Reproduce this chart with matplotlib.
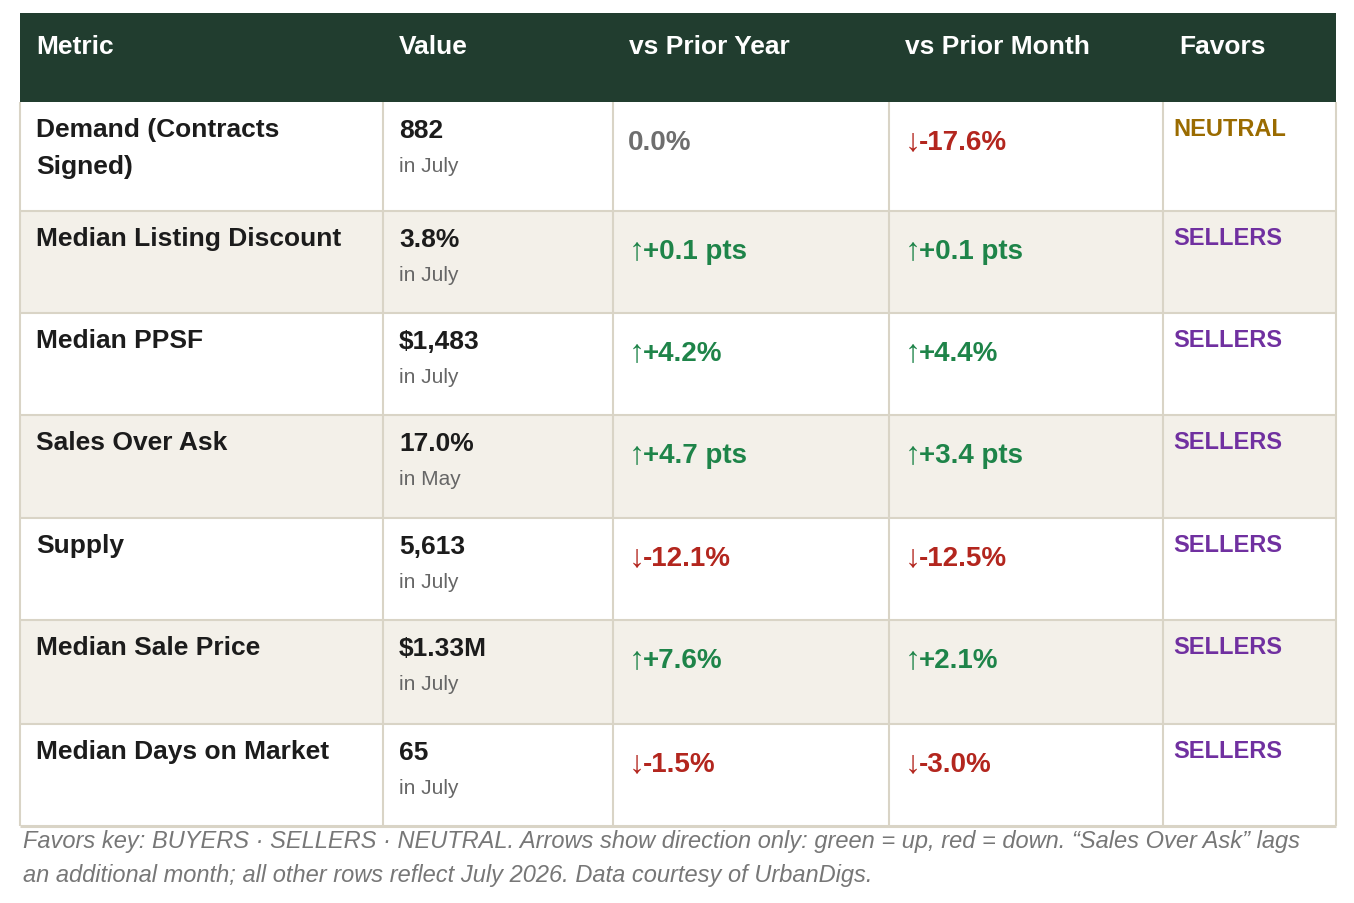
import matplotlib.pyplot as plt
from matplotlib.patches import Rectangle

# table content
columns = ["Metric", "Value", "vs Prior Year", "vs Prior Month", "Favors"]
metrics = ["Demand (Contracts\nSigned)", "Median Listing Discount", "Median PPSF",
           "Sales Over Ask", "Supply", "Median Sale Price", "Median Days on Market"]
values = ["882", "3.8%", "$1,483", "17.0%", "5,613", "$1.33M", "65"]
periods = ["in July", "in July", "in July", "in May", "in July", "in July", "in July"]
vs_year = [0.0, 0.1, 4.2, 4.7, -12.1, 7.6, -1.5]
vs_month = [-17.6, 0.1, 4.4, 3.4, -12.5, 2.1, -3.0]
units = ["%", " pts", "%", " pts", "%", "%", "%"]
favors = ["NEUTRAL", "SELLERS", "SELLERS", "SELLERS", "SELLERS", "SELLERS", "SELLERS"]
footnote = [
    "Favors key: BUYERS \u00b7 SELLERS \u00b7 NEUTRAL. Arrows show direction only: "
    "green = up, red = down. \u201cSales Over Ask\u201d lags",
    "an additional month; all other rows reflect July 2026. Data courtesy of UrbanDigs.",
]

# layout (pixels)
W, H = 1354, 904
COL_EDGES = [20, 383, 613, 889, 1163, 1336]
HEADER_TOP = 14
ROW_EDGES = [103, 212, 314, 416, 519, 621, 725, 827]
PAD = 16

HEADER_BG = "#213D2F"
STRIPE = "#F3F0E9"
GRID = "#D9D4C6"
TEXT = "#1C1C1C"
GREEN = "#1E8449"
RED = "#B3261E"
GRAY = "#6E6E6E"
FAVOR_COLORS = {"NEUTRAL": "#9A6B00", "SELLERS": "#7030A0", "BUYERS": "#1F5FA8"}
FONT = ["Liberation Sans", "DejaVu Sans"]


def fmt_change(v, unit):
    if v > 0:
        return "\u2191", f"+{v:.1f}{unit}", GREEN
    if v < 0:
        return "\u2193", f"{v:.1f}{unit}", RED
    return "", f"{v:.1f}{unit}", GRAY


fig = plt.figure(figsize=(W / 100, H / 100), dpi=100)
ax = fig.add_axes([0, 0, 1, 1])
ax.set_xlim(0, W)
ax.set_ylim(H, 0)
ax.axis("off")
renderer = fig.canvas.get_renderer()

left, right = COL_EDGES[0], COL_EDGES[-1]

# header
ax.add_patch(Rectangle((left, HEADER_TOP), right - left, ROW_EDGES[0] - HEADER_TOP,
                       facecolor=HEADER_BG, edgecolor="none"))
for i, name in enumerate(columns):
    ax.text(COL_EDGES[i] + PAD, 53.5, name, color="white", fontsize=19,
            fontweight="bold", family=FONT, va="baseline", ha="left")

# body
for r in range(len(metrics)):
    top, bot = ROW_EDGES[r], ROW_EDGES[r + 1]
    if r % 2 == 1:
        ax.add_patch(Rectangle((left, top), right - left, bot - top,
                               facecolor=STRIPE, edgecolor="none"))

    for k, line in enumerate(metrics[r].split("\n")):
        ax.text(COL_EDGES[0] + PAD, top + 34 + 37 * k, line, color=TEXT, fontsize=19,
                fontweight="bold", family=FONT, va="baseline")

    ax.text(COL_EDGES[1] + PAD, top + 35, values[r], color=TEXT, fontsize=19,
            fontweight="bold", family=FONT, va="baseline")
    ax.text(COL_EDGES[1] + PAD, top + 69, periods[r], color="#666666", fontsize=15,
            family=FONT, va="baseline")

    for c, series in ((2, vs_year), (3, vs_month)):
        arrow, label, col = fmt_change(series[r], units[r])
        x = COL_EDGES[c] + PAD - 1
        if arrow:
            t = ax.text(COL_EDGES[c] + 16, top + 47, arrow, color=col, fontsize=23,
                        fontweight="bold", family=FONT, va="baseline")
            x = t.get_window_extent(renderer).x1 - 2
        ax.text(x, top + 47, label, color=col, fontsize=20,
                fontweight="bold", family=FONT, va="baseline")

    ax.text(COL_EDGES[4] + 10, top + 33, favors[r], color=FAVOR_COLORS[favors[r]],
            fontsize=17, fontweight="bold", family=FONT, va="baseline")

# grid lines
lw = 1.5
for y in ROW_EDGES[1:-1]:
    ax.plot([left, right], [y, y], color=GRID, lw=lw, solid_capstyle="butt")
ax.plot([left, right], [ROW_EDGES[-1], ROW_EDGES[-1]], color=GRID, lw=2.2,
        solid_capstyle="butt")
for x in COL_EDGES:
    ax.plot([x, x], [ROW_EDGES[0], ROW_EDGES[-1]], color=GRID, lw=lw,
            solid_capstyle="butt")

# footnote
for k, line in enumerate(footnote):
    ax.text(23, 848 + 34 * k, line, color="#777777", fontsize=17, style="italic",
            family=FONT, va="baseline")

fig.savefig("out.png", dpi=100)
